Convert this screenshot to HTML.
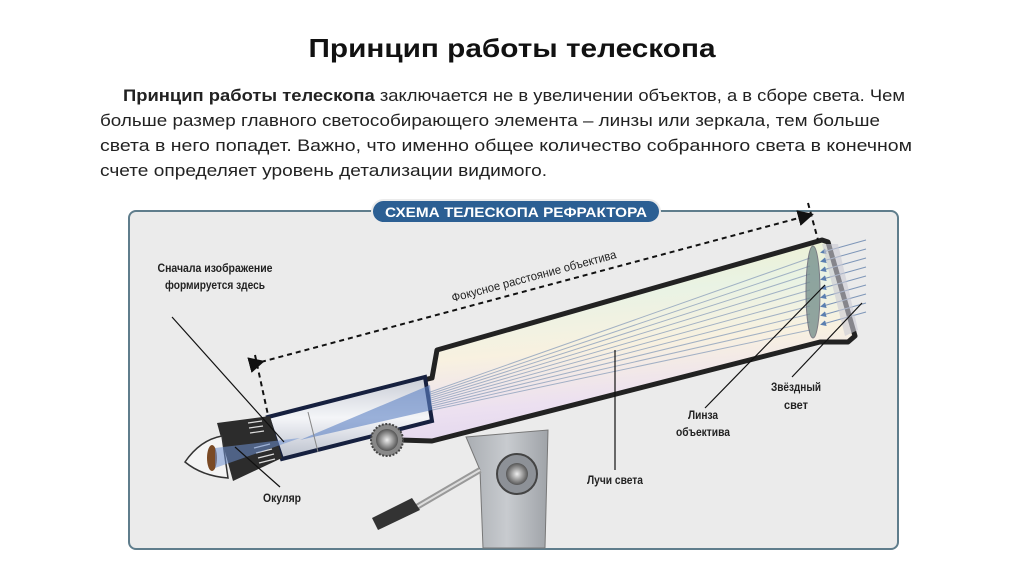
<!DOCTYPE html>
<html><head><meta charset="utf-8">
<style>
html,body{margin:0;padding:0;background:#fff;}
svg{display:block;}
</style></head>
<body>
<svg width="1024" height="574" viewBox="0 0 1024 574" xmlns="http://www.w3.org/2000/svg" font-family="Liberation Sans, sans-serif">
<defs>
<linearGradient id="tubeg" x1="0" y1="0" x2="0.2" y2="1">
<stop offset="0" stop-color="#f2f0c8"/>
<stop offset="0.35" stop-color="#e9f3e4"/>
<stop offset="0.6" stop-color="#f8f1e0"/>
<stop offset="0.85" stop-color="#ece0f0"/>
<stop offset="1" stop-color="#e4d8ee"/>
</linearGradient>
<linearGradient id="drawg" x1="0" y1="0" x2="0" y2="1">
<stop offset="0" stop-color="#c9cdd6"/>
<stop offset="0.5" stop-color="#f4f5f8"/>
<stop offset="1" stop-color="#b9bfcc"/>
</linearGradient>
<linearGradient id="mountg" x1="0" y1="0" x2="1" y2="0">
<stop offset="0" stop-color="#a9adb2"/>
<stop offset="0.5" stop-color="#c8cbcf"/>
<stop offset="1" stop-color="#9fa3a8"/>
</linearGradient>
<radialGradient id="knobg"><stop offset="0" stop-color="#eee"/><stop offset="1" stop-color="#555"/></radialGradient>
<marker id="ah" markerWidth="8" markerHeight="8" refX="6" refY="4" orient="auto"><path d="M0,0 L8,4 L0,8 z" fill="#111"/></marker>
<marker id="bh" markerWidth="6" markerHeight="6" refX="3" refY="3" orient="auto"><path d="M0,0 L6,3 L0,6 z" fill="#5a7fb0"/></marker>
</defs>

<text x="512" y="57" font-size="26" font-weight="bold" text-anchor="middle" textLength="407" lengthAdjust="spacingAndGlyphs" fill="#111">Принцип работы телескопа</text>
<text x="123" y="101" font-size="17" fill="#222" textLength="782" lengthAdjust="spacingAndGlyphs"><tspan font-weight="bold">Принцип работы телескопа</tspan> заключается не в увеличении объектов, а в сборе света. Чем</text>
<text x="100" y="126" font-size="17" fill="#222" textLength="780" lengthAdjust="spacingAndGlyphs">больше размер главного светособирающего элемента – линзы или зеркала, тем больше</text>
<text x="100" y="151" font-size="17" fill="#222" textLength="812" lengthAdjust="spacingAndGlyphs">света в него попадет. Важно, что именно общее количество собранного света в конечном</text>
<text x="100" y="176" font-size="17" fill="#222" textLength="447" lengthAdjust="spacingAndGlyphs">счете определяет уровень детализации видимого.</text>

<rect x="129" y="211" width="769" height="338" rx="7" fill="#ebebeb" stroke="#5f7d8c" stroke-width="2"/>
<rect x="372" y="200" width="288" height="23" rx="11.5" fill="#2c5f93" stroke="#ebebeb" stroke-width="2"/>
<text x="516" y="217" font-size="14" font-weight="bold" fill="#fff" text-anchor="middle" textLength="262" lengthAdjust="spacingAndGlyphs">СХЕМА ТЕЛЕСКОПА РЕФРАКТОРА</text>

<path d="M466,437 L548,430 L545,548 L483,548 L480,470 Z" fill="url(#mountg)" stroke="#777" stroke-width="1"/>
<circle cx="517" cy="474" r="20" fill="#8d9197" stroke="#444" stroke-width="2"/>
<circle cx="517" cy="474" r="11" fill="url(#knobg)"/>
<line x1="480" y1="470" x2="415" y2="508" stroke="#999" stroke-width="6"/>
<line x1="480" y1="470" x2="415" y2="508" stroke="#ddd" stroke-width="2"/>
<path d="M378,530 L372,518 L412,498 L420,510 Z" fill="#333"/>

<path d="M388,398 L390,388 L432,378 L437,350 L822,240 L828,242 L855,336 L848,342 L820,342 L432,441 L400,440 Z" fill="url(#tubeg)" stroke="#222" stroke-width="5" stroke-linejoin="round"/>

<g stroke="#8fa2bd" stroke-width="1" opacity="0.8">
<line x1="300" y1="438" x2="810" y2="258"/><line x1="300" y1="438" x2="810" y2="266"/>
<line x1="300" y1="438" x2="810" y2="274"/><line x1="300" y1="438" x2="810" y2="282"/>
<line x1="300" y1="438" x2="810" y2="290"/><line x1="300" y1="438" x2="810" y2="298"/>
<line x1="300" y1="438" x2="810" y2="306"/><line x1="300" y1="438" x2="810" y2="314"/>
<line x1="300" y1="438" x2="810" y2="322"/><line x1="300" y1="438" x2="810" y2="330"/>
</g>
<g stroke="#7e96b8" stroke-width="1">
<line x1="866" y1="240" x2="823" y2="252" marker-end="url(#bh)"/>
<line x1="866" y1="249" x2="823" y2="261" marker-end="url(#bh)"/>
<line x1="866" y1="258" x2="823" y2="270" marker-end="url(#bh)"/>
<line x1="866" y1="267" x2="823" y2="279" marker-end="url(#bh)"/>
<line x1="866" y1="276" x2="823" y2="288" marker-end="url(#bh)"/>
<line x1="866" y1="285" x2="823" y2="297" marker-end="url(#bh)"/>
<line x1="866" y1="294" x2="823" y2="306" marker-end="url(#bh)"/>
<line x1="866" y1="303" x2="823" y2="315" marker-end="url(#bh)"/>
<line x1="866" y1="312" x2="823" y2="324" marker-end="url(#bh)"/>
</g>
<ellipse cx="813" cy="292" rx="7" ry="46" fill="#6f8a88" opacity="0.75" stroke="#556" stroke-width="1"/>
<path d="M822,244 L838,244 L858,330 L845,336 Z" fill="#c9c9d4" opacity="0.6"/>

<path d="M268,417 L425,377 L432,421 L282,459 Z" fill="url(#drawg)" stroke="#16203f" stroke-width="4"/>
<path d="M300,440 L430,385 L432,410 Z" fill="#5d82c4" opacity="0.6"/>
<line x1="308" y1="412" x2="318" y2="452" stroke="#888" stroke-width="1"/>

<circle cx="387" cy="440" r="16" fill="#888" stroke="#444" stroke-width="2" stroke-dasharray="2 1.5"/>
<circle cx="387" cy="440" r="11" fill="url(#knobg)"/>

<path d="M217,423 L270,416 L282,458 L233,481 Z" fill="#2c2c2c"/>
<g stroke="#ddd" stroke-width="1.2">
<line x1="248" y1="423" x2="262" y2="421"/><line x1="249" y1="428" x2="263" y2="426"/><line x1="250" y1="433" x2="264" y2="431"/>
<line x1="254" y1="448" x2="270" y2="444"/><line x1="256" y1="453" x2="272" y2="449"/><line x1="258" y1="458" x2="274" y2="454"/><line x1="259" y1="463" x2="275" y2="459"/>
</g>
<path d="M185,462 Q200,440 222,436 L228,478 Q202,476 185,462 Z" fill="#f4f4f4" stroke="#333" stroke-width="1.5"/>
<ellipse cx="212" cy="458" rx="5" ry="13" fill="#7a4a25"/>
<path d="M215,448 L300,438 L215,468 Z" fill="#6e8fd0" opacity="0.55"/>

<line x1="261" y1="362" x2="810" y2="215" stroke="#111" stroke-width="2" stroke-dasharray="5 4" marker-start="url(#ah)" marker-end="url(#ah)"/>
<line x1="255" y1="355" x2="268" y2="415" stroke="#111" stroke-width="2" stroke-dasharray="5 4"/>
<line x1="808" y1="203" x2="818" y2="240" stroke="#111" stroke-width="2" stroke-dasharray="5 4"/>
<text x="535" y="280" font-size="12" fill="#222" text-anchor="middle" transform="rotate(-15 535 280)" textLength="170" lengthAdjust="spacingAndGlyphs">Фокусное расстояние объектива</text>

<g stroke="#111" stroke-width="1.2">
<line x1="172" y1="317" x2="284" y2="442"/>
<line x1="235" y1="447" x2="280" y2="487"/>
<line x1="615" y1="350" x2="615" y2="470"/>
<line x1="825" y1="285" x2="705" y2="408"/>
<line x1="862" y1="303" x2="792" y2="377"/>
</g>

<g font-size="12" font-weight="bold" fill="#222" text-anchor="middle">
<text x="215" y="272" textLength="115" lengthAdjust="spacingAndGlyphs">Сначала изображение</text>
<text x="215" y="289" textLength="100" lengthAdjust="spacingAndGlyphs">формируется здесь</text>
<text x="282" y="502" textLength="38" lengthAdjust="spacingAndGlyphs">Окуляр</text>
<text x="615" y="484" textLength="56" lengthAdjust="spacingAndGlyphs">Лучи света</text>
<text x="703" y="419" textLength="30" lengthAdjust="spacingAndGlyphs">Линза</text>
<text x="703" y="436" textLength="54" lengthAdjust="spacingAndGlyphs">объектива</text>
<text x="796" y="391" textLength="50" lengthAdjust="spacingAndGlyphs">Звёздный</text>
<text x="796" y="409" textLength="24" lengthAdjust="spacingAndGlyphs">свет</text>
</g>
</svg>
</body></html>
